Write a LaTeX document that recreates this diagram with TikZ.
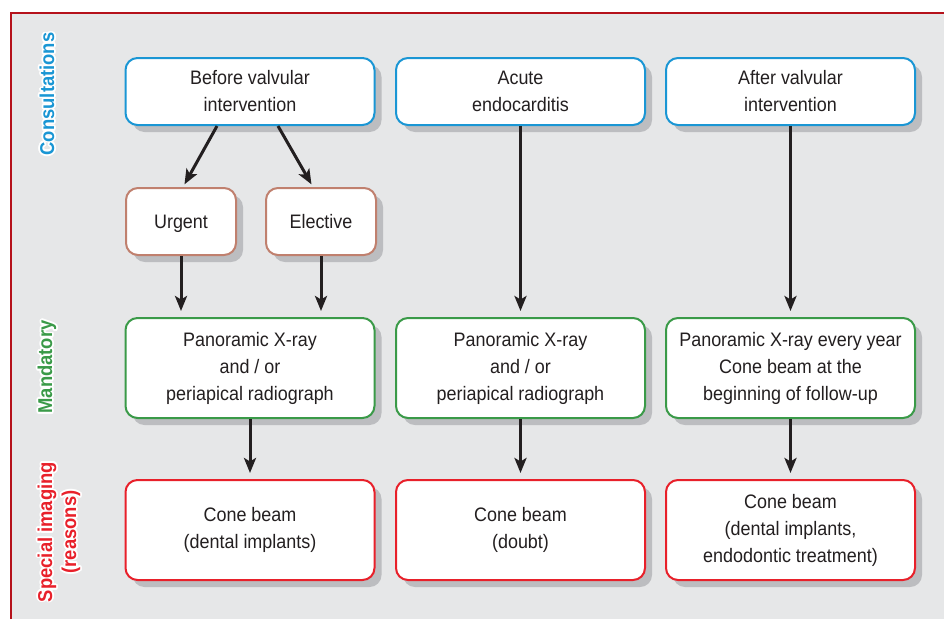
\documentclass[tikz,border=0pt]{standalone}
\usepackage{fontspec}
\setmainfont[FakeStretch=0.92]{Liberation Sans}
\usetikzlibrary{arrows.meta,calc}
\definecolor{bg}{HTML}{E6E7E8}
\definecolor{frame}{HTML}{B5121B}
\definecolor{cblue}{HTML}{1A96D4}
\definecolor{cbrown}{HTML}{C0806E}
\definecolor{cgreen}{HTML}{3A9A48}
\definecolor{cred}{HTML}{E8202A}
\definecolor{shad}{HTML}{BCBDC0}
\definecolor{ink}{HTML}{231F20}
\tikzset{
  box/.style={draw, line width=2pt, fill=white, rounded corners=12pt, align=center,
    inner sep=0pt, text=ink, font=\fontsize{19.5}{27}\selectfont,
    preaction={fill=shad, transform canvas={shift={(7pt,-7pt)}}}},
  consult/.style={box, draw=cblue, minimum width=249pt, minimum height=67pt},
  choice/.style={box, draw=cbrown, minimum width=110pt, minimum height=67pt,
    text height=14pt, text depth=0pt},
  mand/.style={box, draw=cgreen, minimum width=249pt, minimum height=100pt},
  special/.style={box, draw=cred, minimum width=249pt, minimum height=100pt},
  arr/.style={line width=3pt, draw=ink, -{Stealth[length=15pt,width=12pt,inset=3.5pt]}},
  lab/.style={rotate=90, align=center, font=\fontsize{20}{24}\selectfont\bfseries}
}
\begin{document}
\begin{tikzpicture}[x=1pt,y=-1pt]
\useasboundingbox (0,0) rectangle (944,619);
\fill[white] (0,0) rectangle (944,619);
\fill[bg] (11,13) rectangle (944,619);
\draw[frame, line width=2.2pt] (11,619) -- (11,13) -- (944,13);

% side labels with white halo
\foreach \a in {0,30,...,330}{
  \node[lab, white] (hc\a) at ($(47,94)+(\a:1.8)$) {Consultations};
  \node[lab, white] (hm\a) at ($(47,367)+(\a:1.8)$) {Mandatory};
  \node[lab, white] (hs\a) at ($(59,532)+(\a:1.8)$) {Special imaging\\(reasons)};
}
\node[lab, cblue] (lc) at (47,94) {Consultations};
\node[lab, cgreen] (lm) at (47,367) {Mandatory};
\node[lab, cred] (ls) at (59,532) {Special imaging\\(reasons)};

% boxes
\node[consult] (c1) at (250,91.5) {Before valvular\\intervention};
\node[consult] (c2) at (520.5,91.5) {Acute\\endocarditis};
\node[consult] (c3) at (790.5,91.5) {After valvular\\intervention};
\node[choice] (u) at (181,221.5) {Urgent};
\node[choice] (e) at (321,221.5) {Elective};
\node[mand] (m1) at (250,368) {Panoramic X-ray\\and / or\\periapical radiograph};
\node[mand] (m2) at (520.5,368) {Panoramic X-ray\\and / or\\periapical radiograph};
\node[mand] (m3) at (790.5,368) {Panoramic X-ray every year\\Cone beam at the\\beginning of follow-up};
\node[special] (s1) at (250,530) {Cone beam\\(dental implants)};
\node[special] (s2) at (520.5,530) {Cone beam\\(doubt)};
\node[special] (s3) at (790.5,530) {Cone beam\\(dental implants,\\endodontic treatment)};

% connectors
\draw[arr, shorten >=3pt] ($(c1.south)+(-33,0)$) -- ($(u.north)+(2,0)$);
\draw[arr, shorten >=3pt] ($(c1.south)+(28,0)$) -- ($(e.north)+(-8,0)$);
\draw[arr, shorten >=6pt] (u.south) -- (u.south |- m1.north);
\draw[arr, shorten >=6pt] (e.south) -- (e.south |- m1.north);
\draw[arr, shorten >=6pt] (c2.south) -- (m2.north);
\draw[arr, shorten >=6pt] (c3.south) -- (m3.north);
\draw[arr, shorten >=6pt] (m1.south) -- (s1.north);
\draw[arr, shorten >=6pt] (m2.south) -- (s2.north);
\draw[arr, shorten >=6pt] (m3.south) -- (s3.north);
\end{tikzpicture}
\end{document}
